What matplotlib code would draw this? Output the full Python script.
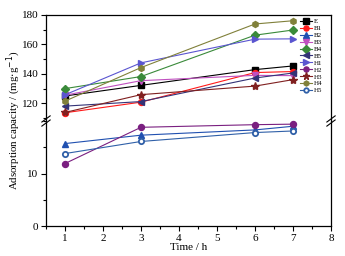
import matplotlib.pyplot as plt
from matplotlib.ticker import MultipleLocator

plt.rcParams['font.family'] = ['Liberation Serif', 'DejaVu Serif']

time = [1, 3, 6, 7]

# high-capacity series (upper panel)
E = [125.0, 132.2, 142.9, 145.4]
B1 = [113.6, 120.8, 140.9, 141.6]
B3 = [125.5, 135.4, 139.0, 138.8]
B4 = [130.0, 138.2, 166.3, 169.8]
B5 = [118.1, 121.2, 137.2, 140.6]
H1 = [125.8, 147.5, 163.6, 163.8]
H3 = [113.8, 125.9, 131.7, 136.1]
H4 = [121.5, 144.3, 173.9, 176.1]

# low-capacity series (lower panel)
B2 = [15.7, 17.3, 18.3, 19.0]
H2 = [11.9, 18.8, 19.3, 19.4]
H5 = [13.8, 16.1, 17.8, 18.1]

names = ['E', 'B1', 'B2', 'B3', 'B4', 'B5', 'H1', 'H2', 'H3', 'H4', 'H5']
values = [E, B1, B2, B3, B4, B5, H1, H2, H3, H4, H5]
colors = ['#000000', '#ff1a1a', '#2050b0', '#c050c0', '#3a8a3a', '#333377',
          '#5a55d0', '#7a1f80', '#802020', '#80803a', '#3060a8']
markers = ['s', 'o', '^', 'v', 'D', '<', '>', 'o', '*', 'h', 'o']
low = {'B2', 'H2', 'H5'}

fig = plt.figure(figsize=(3.45, 2.56), dpi=100)
left, width = 46 / 345, 285 / 345
top, split, bottom = 1 - 15 / 256, 1 - 121 / 256, 1 - 226 / 256
ax_top = fig.add_axes([left, split, width, top - split])
ax_bot = fig.add_axes([left, bottom, width, split - bottom])

handles = []
for name, vals, c, m in zip(names, values, colors, markers):
    ax = ax_bot if name in low else ax_top
    kw = dict(color=c, marker=m, markersize=4.3, linewidth=0.8, label=name)
    if m == '*':
        kw['markersize'] = 6
    if name == 'H5':
        kw['markerfacecolor'] = 'white'
        kw['markeredgewidth'] = 1.3
        kw['markersize'] = 3.8
    line, = ax.plot(time, vals, clip_on=False, **kw)
    handles.append(line)

ax_top.set_ylim(108, 180)
ax_bot.set_ylim(0, 20)
for ax in (ax_top, ax_bot):
    ax.set_xlim(0.5, 8)
    ax.xaxis.set_major_locator(MultipleLocator(1))
    ax.xaxis.set_minor_locator(MultipleLocator(0.5))
    ax.tick_params(which='both', direction='out', labelsize=8, width=0.8,
                   top=False, right=False, pad=2)
    ax.tick_params(which='major', length=3.5)
    ax.tick_params(which='minor', length=2)
    for s in ax.spines.values():
        s.set_linewidth(0.9)

ax_top.set_yticks([120, 140, 160, 180])
ax_top.yaxis.set_minor_locator(MultipleLocator(10))
ax_top.spines['bottom'].set_visible(False)
ax_top.tick_params(axis='x', which='both', bottom=False, labelbottom=False)

ax_bot.set_yticks([0, 10])
ax_bot.yaxis.set_minor_locator(MultipleLocator(5))
ax_bot.spines['top'].set_visible(False)
ax_bot.set_xticks(range(1, 9))
ax_bot.set_xlabel('Time / h', fontsize=8, labelpad=0)

fig.text(0.04, (top + bottom) / 2, 'Adsorption capacity / (mg$\\cdot$g$^{-1}$)',
         rotation=90, ha='center', va='center', fontsize=7.8)

# axis-break marks on both spines
for xf in (left, left + width):
    for dy in (-0.008, 0.008):
        fig.add_artist(plt.Line2D([xf - 0.012, xf + 0.012],
                                  [split + dy - 0.012, split + dy + 0.012],
                                  color='black', linewidth=0.8))

fig.legend(handles=handles, loc='upper left', bbox_to_anchor=(297 / 345, 1 - 15 / 256),
           frameon=False, fontsize=5, handlelength=1.6, handletextpad=0.3,
           labelspacing=0.15, borderpad=0, markerscale=0.85)

fig.savefig('out.png', dpi=100)
